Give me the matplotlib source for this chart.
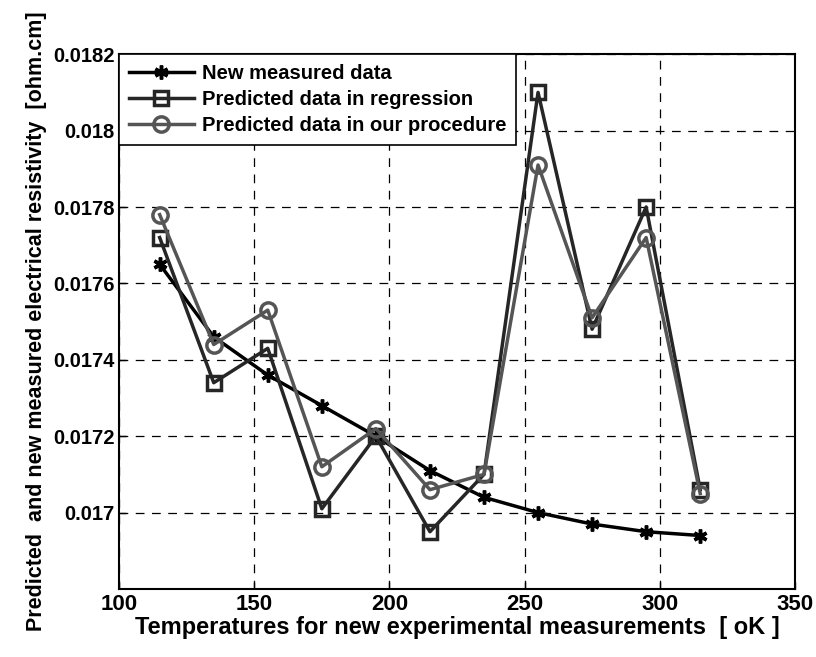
import numpy as np
import matplotlib
matplotlib.use('Agg')
import matplotlib.pyplot as plt

# Temperatures (oK)
temps = [115, 135, 155, 175, 195, 215, 235, 255, 275, 295, 315]

# Resistivity values [ohm.cm]
measured = [0.01765, 0.01746, 0.01736, 0.01728, 0.01720, 0.01711,
            0.01704, 0.01700, 0.01697, 0.01695, 0.01694]
regression = [0.01772, 0.01734, 0.01743, 0.01701, 0.01720, 0.01695,
              0.01710, 0.01810, 0.01748, 0.01780, 0.01706]
procedure = [0.01778, 0.01744, 0.01753, 0.01712, 0.01722, 0.01706,
             0.01710, 0.01791, 0.01751, 0.01772, 0.01705]

xticks = [100, 150, 200, 250, 300, 350]
yticks = [0.017, 0.0172, 0.0174, 0.0176, 0.0178, 0.018, 0.0182]
ytick_labels = ['0.017', '0.0172', '0.0174', '0.0176', '0.0178', '0.018', '0.0182']

plt.rcParams['font.family'] = ['Liberation Sans', 'DejaVu Sans']
plt.rcParams['font.weight'] = 'bold'

fig = plt.figure(figsize=(8.16, 6.57), dpi=100)
ax = fig.add_axes([0.146, 0.1035, 0.828, 0.814])

ax.plot(temps, measured, color='black', lw=2.5, marker=(6, 2, 0), ms=10,
        mew=2.5, label='New measured data')
ax.plot(temps, regression, color='#262626', lw=2.5, marker='s', ms=10,
        mfc='none', mew=2.5, label='Predicted data in regression')
ax.plot(temps, procedure, color='#555555', lw=2.5, marker='o', ms=11,
        mfc='none', mew=2.5, label='Predicted data in our procedure')

ax.set_xlim(100, 350)
ax.set_ylim(0.0168, 0.0182)
ax.set_xticks(xticks)
ax.set_yticks(yticks)
ax.set_yticklabels(ytick_labels)
ax.tick_params(direction='in', length=5, width=1)
ax.tick_params(axis='y', labelsize=14.5)
ax.tick_params(axis='x', labelsize=16)
ax.grid(True, color='black', linestyle=(0, (7, 6)), linewidth=0.9)
for s in ax.spines.values():
    s.set_linewidth(1.5)

ax.set_xlabel('Temperatures for new experimental measurements  [ oK ]',
              fontsize=17, fontweight='bold', labelpad=1)
ax.set_ylabel('Predicted  and new measured electrical resistivity  [ohm.cm]',
              fontsize=15.5, fontweight='bold', labelpad=4)

leg = ax.legend(loc='upper left', bbox_to_anchor=(0, 1), borderaxespad=0,
                fontsize=14.5, fancybox=False, edgecolor='black',
                handlelength=3.2, handletextpad=0.4, labelspacing=0.35,
                borderpad=0.5, framealpha=1)
leg.get_frame().set_linewidth(1.2)

fig.savefig('out.png', dpi=100)
